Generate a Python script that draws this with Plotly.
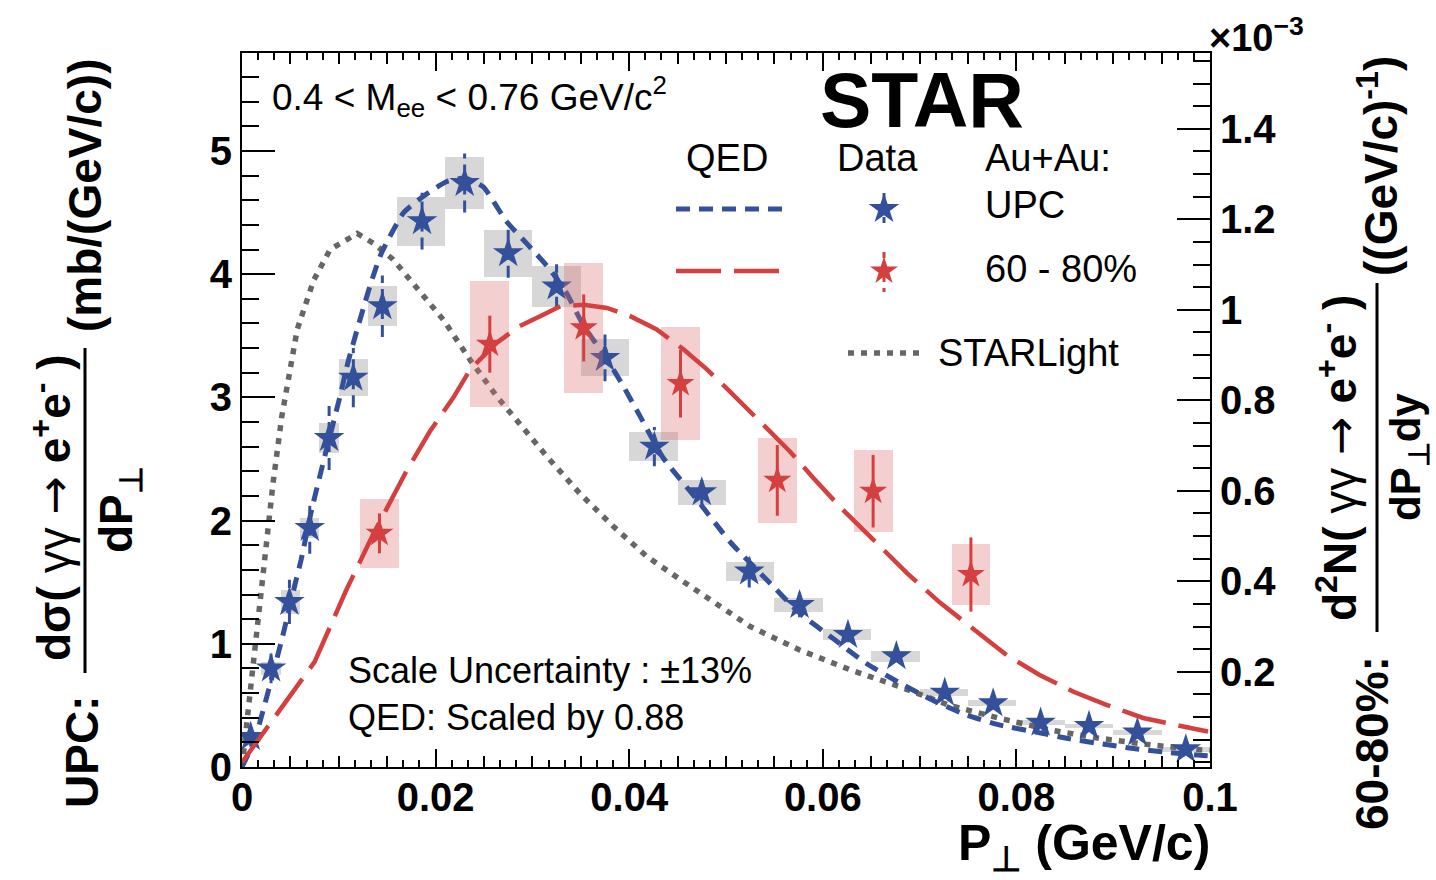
import plotly.graph_objects as go

# ---------------- data ----------------
# UPC data (left axis, mb/(GeV/c))
upc_x = [0.0009, 0.0030, 0.0049, 0.0070, 0.0090, 0.0115, 0.0145, 0.0186, 0.0230, 0.0275, 0.0325, 0.0375,
         0.0426, 0.0475, 0.0524, 0.0576, 0.0626, 0.0676, 0.0726, 0.0776, 0.0825, 0.0875, 0.0925, 0.0975]
upc_y = [0.244, 0.80, 1.34, 1.94, 2.67, 3.16, 3.74, 4.43, 4.74, 4.17, 3.90, 3.32,
         2.60, 2.23, 1.586, 1.315, 1.072, 0.90, 0.603, 0.517, 0.36, 0.333, 0.28, 0.144]
upc_stat = [0.08, 0.12, 0.18, 0.21, 0.26, 0.24, 0.25, 0.23, 0.24, 0.20, 0.18, 0.19,
            0.16, 0.10, 0.13, 0.10, 0.06, 0.05, 0.05, 0.05, 0.04, 0.04, 0.03, 0.03]
upc_sys = [0.04, 0.05, 0.095, 0.085, 0.12, 0.15, 0.16, 0.20, 0.21, 0.19, 0.17, 0.15,
           0.12, 0.10, 0.075, 0.06, 0.045, 0.045, 0.03, 0.025, 0.02, 0.02, 0.018, 0.02]
upc_bin_lo = [0.000, 0.002, 0.004, 0.006, 0.008, 0.010, 0.013, 0.016, 0.021, 0.025, 0.030, 0.035,
              0.040, 0.045, 0.050, 0.055, 0.060, 0.065, 0.070, 0.075, 0.080, 0.085, 0.090, 0.095]
upc_bin_hi = [0.002, 0.004, 0.006, 0.008, 0.010, 0.013, 0.016, 0.021, 0.025, 0.030, 0.035, 0.040,
              0.045, 0.050, 0.055, 0.060, 0.065, 0.070, 0.075, 0.080, 0.085, 0.090, 0.095, 0.100]

# 60-80% data (right axis, units of 1e-3 (GeV/c)^-1)
cen_x = [0.0142, 0.0256, 0.0353, 0.0453, 0.0553, 0.0652, 0.0753]
cen_y = [0.506, 0.924, 0.960, 0.837, 0.623, 0.599, 0.415]
cen_stat = [0.044, 0.063, 0.074, 0.075, 0.078, 0.080, 0.082]
cen_sys = [0.076, 0.139, 0.144, 0.124, 0.094, 0.091, 0.067]
cen_box_w = [0.004, 0.004, 0.004, 0.004, 0.004, 0.004, 0.004]

# QED for UPC (left axis)
qed_upc_x = [0, 0.0013, 0.0041, 0.0055, 0.0061, 0.0072, 0.0088, 0.0101, 0.0110, 0.0132, 0.0144, 0.0167,
             0.0187, 0.0211, 0.0230, 0.0249, 0.0273, 0.0294, 0.0318, 0.0335, 0.0353, 0.0377, 0.0394,
             0.0411, 0.0435, 0.0470, 0.0505, 0.0542, 0.0576, 0.0611, 0.0645, 0.0680, 0.0714, 0.0749,
             0.0783, 0.0818, 0.0852, 0.0886, 0.0921, 0.0955, 0.0990, 0.1]
qed_upc_y = [0, 0.22, 1.03, 1.49, 1.68, 2.09, 2.60, 3.0, 3.30, 3.90, 4.17, 4.50,
             4.63, 4.75, 4.78, 4.71, 4.43, 4.25, 4.04, 3.85, 3.58, 3.31, 3.09,
             2.85, 2.51, 2.17, 1.82, 1.52, 1.25, 1.04, 0.84, 0.68, 0.54, 0.42,
             0.34, 0.287, 0.233, 0.19, 0.15, 0.12, 0.095, 0.09]

# QED for 60-80% (right axis)
qed_cen_x = [0, 0.0075, 0.0108, 0.0136, 0.0170, 0.0194, 0.0218, 0.0236, 0.0263, 0.0287, 0.0308, 0.0329,
             0.0353, 0.0377, 0.0401, 0.0428, 0.0456, 0.0480, 0.0501, 0.0542, 0.0566, 0.0590, 0.0618,
             0.0656, 0.0687, 0.0721, 0.0756, 0.0790, 0.0824, 0.0859, 0.0893, 0.0931, 0.0986, 0.0998]
qed_cen_y = [0, 0.222, 0.382, 0.506, 0.644, 0.731, 0.805, 0.869, 0.927, 0.964, 0.986, 1.008,
             1.011, 1.004, 0.986, 0.957, 0.913, 0.869, 0.826, 0.738, 0.687, 0.629, 0.564,
             0.484, 0.418, 0.353, 0.295, 0.237, 0.193, 0.156, 0.127, 0.098, 0.073, 0.068]

# STARLight (left axis)
slight_x = [0, 0.00045, 0.00096, 0.00165, 0.00234, 0.0032, 0.0041, 0.0057, 0.0074, 0.0091, 0.0119, 0.0136,
            0.0156, 0.0180, 0.0208, 0.0236, 0.0263, 0.0315, 0.0349, 0.0384, 0.0418, 0.0453, 0.0501,
            0.0525, 0.0576, 0.0628, 0.0680, 0.0731, 0.0783, 0.0835, 0.0886, 0.0938, 0.0990, 0.1]
slight_y = [0, 0.33, 0.73, 1.19, 1.68, 2.30, 2.84, 3.55, 3.95, 4.20, 4.33, 4.25,
            4.12, 3.90, 3.63, 3.30, 3.01, 2.52, 2.22, 1.95, 1.71, 1.52, 1.27,
            1.14, 0.95, 0.79, 0.65, 0.50, 0.395, 0.30, 0.233, 0.18, 0.14, 0.135]

x_ticks = [0, 0.02, 0.04, 0.06, 0.08, 0.1]
x_tick_text = ["0", "0.02", "0.04", "0.06", "0.08", "0.1"]
y_left_ticks = [0, 1, 2, 3, 4, 5]
y_right_ticks = [0.2, 0.4, 0.6, 0.8, 1.0, 1.2, 1.4]
y_right_text = ["0.2", "0.4", "0.6", "0.8", "1", "1.2", "1.4"]

# ---------------- styles ----------------
BLUE = "#34509a"
RED = "#d43f3f"
GRAY = "#666666"
FONT = "Liberation Sans, Arial, sans-serif"

W, H = 1436, 880
L, R, T, B = 242, 1210, 53, 767


def PX(x):
    return (x - L) / (R - L)


def PY(y):
    return (B - y) / (B - T)


fig = go.Figure()

# systematic boxes
fig.add_trace(go.Bar(
    x=[(a + b) / 2 for a, b in zip(upc_bin_lo, upc_bin_hi)],
    y=[2 * s for s in upc_sys],
    base=[v - s for v, s in zip(upc_y, upc_sys)],
    width=[b - a for a, b in zip(upc_bin_lo, upc_bin_hi)],
    marker=dict(color="rgba(175,175,175,0.5)", line=dict(width=0)),
    xaxis="x", yaxis="y", showlegend=False, hoverinfo="skip"))
fig.add_trace(go.Bar(
    x=cen_x,
    y=[2 * s for s in cen_sys],
    base=[v - s for v, s in zip(cen_y, cen_sys)],
    width=cen_box_w,
    marker=dict(color="rgba(220,110,110,0.33)", line=dict(width=0)),
    xaxis="x", yaxis="y2", showlegend=False, hoverinfo="skip"))

# curves
fig.add_trace(go.Scatter(x=slight_x, y=slight_y, mode="lines", yaxis="y",
                         line=dict(color=GRAY, width=5.5, dash="6px,7px"),
                         showlegend=False))
fig.add_trace(go.Scatter(x=qed_upc_x, y=qed_upc_y, mode="lines", yaxis="y",
                         line=dict(color=BLUE, width=5, dash="14px,9px", shape="spline", smoothing=0.5),
                         showlegend=False))
fig.add_trace(go.Scatter(x=qed_cen_x, y=qed_cen_y, mode="lines", yaxis="y2",
                         line=dict(color=RED, width=4.5, dash="45px,13px"),
                         showlegend=False))

# blue stat error bars (dashed)
ex, ey = [], []
for xv, yv, sv in zip(upc_x, upc_y, upc_stat):
    ex += [xv, xv, None]
    ey += [yv - sv, yv + sv, None]
fig.add_trace(go.Scatter(x=ex, y=ey, mode="lines", yaxis="y",
                         line=dict(color=BLUE, width=3, dash="12px,6px"), showlegend=False))

# red stat error bars (solid)
rx, ry = [], []
for xv, yv, sv in zip(cen_x, cen_y, cen_stat):
    rx += [xv, xv, None]
    ry += [yv - sv, yv + sv, None]
fig.add_trace(go.Scatter(x=rx, y=ry, mode="lines", yaxis="y2",
                         line=dict(color=RED, width=3), showlegend=False))

# markers
fig.add_trace(go.Scatter(x=upc_x, y=upc_y, mode="markers", yaxis="y",
                         marker=dict(symbol="star", size=23, color=BLUE, line=dict(width=0)),
                         showlegend=False))
fig.add_trace(go.Scatter(x=cen_x, y=cen_y, mode="markers", yaxis="y2",
                         marker=dict(symbol="star", size=21, color=RED, line=dict(width=0)),
                         showlegend=False))

# ---- legend samples on a pixel overlay axis ----
fig.add_trace(go.Scatter(x=[676, 790], y=[209, 209], mode="lines", xaxis="x3", yaxis="y3",
                         line=dict(color=BLUE, width=5, dash="14px,9px"), showlegend=False))
fig.add_trace(go.Scatter(x=[676, 790], y=[271, 271], mode="lines", xaxis="x3", yaxis="y3",
                         line=dict(color=RED, width=4.5, dash="45px,13px"), showlegend=False))
fig.add_trace(go.Scatter(x=[848, 920], y=[353, 353], mode="lines", xaxis="x3", yaxis="y3",
                         line=dict(color=GRAY, width=5.5, dash="6px,7px"), showlegend=False))
fig.add_trace(go.Scatter(x=[884, 884], y=[193, 228], mode="lines", xaxis="x3", yaxis="y3",
                         line=dict(color=BLUE, width=3, dash="6px,6px"), showlegend=False))
fig.add_trace(go.Scatter(x=[884, 884], y=[252, 292], mode="lines", xaxis="x3", yaxis="y3",
                         line=dict(color=RED, width=3, dash="6px,6px"), showlegend=False))
fig.add_trace(go.Scatter(x=[884], y=[209], mode="markers", xaxis="x3", yaxis="y3",
                         marker=dict(symbol="star", size=23, color=BLUE), showlegend=False))
fig.add_trace(go.Scatter(x=[884], y=[271], mode="markers", xaxis="x3", yaxis="y3",
                         marker=dict(symbol="star", size=21, color=RED), showlegend=False))

tickfont = dict(family=FONT, size=40, color="black", weight="bold")

fig.update_layout(
    width=W, height=H,
    margin=dict(l=L, r=W - R, t=T, b=H - B),
    paper_bgcolor="white", plot_bgcolor="white",
    barmode="overlay", bargap=0,
    showlegend=False,
    xaxis=dict(range=[0, 0.1], tickvals=x_ticks, ticktext=x_tick_text,
               ticks="inside", ticklen=18, tickwidth=2, tickcolor="black",
               showline=True, linewidth=2, linecolor="black", mirror="ticks",
               showgrid=False, zeroline=False, tickfont=tickfont, ticklabelstandoff=-6,
               minor=dict(ticks="inside", ticklen=7, tickwidth=1.5, dtick=0.005 / 3, tick0=0,
                          tickcolor="black", showgrid=False)),
    xaxis2=dict(range=[0, 0.1], overlaying="x", anchor="y", dtick=0.005, tick0=0,
                ticks="inside", ticklen=11, tickwidth=1.5, tickcolor="black", mirror="ticks",
                showticklabels=False, showline=False, showgrid=False, zeroline=False),
    yaxis=dict(range=[0, 5.795], tickvals=y_left_ticks,
               ticks="inside", ticklen=33, tickwidth=2, tickcolor="black",
               showline=True, linewidth=2, linecolor="black",
               showgrid=False, zeroline=False, tickfont=tickfont,
               minor=dict(ticks="inside", ticklen=17, tickwidth=1.5, dtick=0.2, tick0=0,
                          tickcolor="black", showgrid=False)),
    yaxis2=dict(range=[-0.0103, 1.5675], overlaying="y", side="right", anchor="x",
                tickvals=y_right_ticks, ticktext=y_right_text,
                ticks="inside", ticklen=33, tickwidth=2, tickcolor="black",
                showline=True, linewidth=2, linecolor="black",
                showgrid=False, zeroline=False, tickfont=tickfont,
                minor=dict(ticks="inside", ticklen=17, tickwidth=1.5, dtick=0.05, tick0=0,
                           tickcolor="black", showgrid=False)),
    xaxis3=dict(range=[L, R], overlaying="x", visible=False, anchor="y3"),
    yaxis3=dict(range=[B, T], overlaying="y", visible=False, anchor="x3"),
)

# an invisible trace on xaxis2 so that the medium ticks are drawn
fig.add_trace(go.Scatter(x=[0.05], y=[1], xaxis="x2", yaxis="y", mode="markers",
                         marker=dict(opacity=0), showlegend=False, hoverinfo="skip"))

ann = []


def add_text(text, x, y, size, xanchor="center", yanchor="middle", weight="normal", angle=0):
    ann.append(dict(text=text, x=PX(x), y=PY(y), xref="paper", yref="paper",
                    xanchor=xanchor, yanchor=yanchor, showarrow=False, textangle=angle,
                    font=dict(family=FONT, size=size, color="black", weight=weight)))


ARROW = "<span style='font-family:DejaVu Sans;font-weight:normal'>→</span>"
GG = "<span style='font-weight:normal'>γγ</span>"

# in-plot texts
add_text("0.4 < M<sub>ee</sub> < 0.76 GeV/c<sup>2</sup>", 270, 96, 37, xanchor="left")
add_text("STAR", 922, 100, 77, weight="bold")
add_text("QED", 727, 158, 38)
add_text("Data", 877, 158, 38)
add_text("Au+Au:", 983, 158, 38, xanchor="left")
add_text("UPC", 983, 205, 38, xanchor="left")
add_text("60 - 80%", 983, 269, 38, xanchor="left")
add_text("STARLight", 936, 353, 38, xanchor="left")
add_text("Scale Uncertainty : ±13%", 346, 670, 36, xanchor="left")
add_text("QED: Scaled by 0.88", 346, 717, 36, xanchor="left")

# x title
add_text("P<sub>⊥</sub> (GeV/c)", 1212, 846, 50, xanchor="right", weight="bold")
# exponent of right axis
add_text("×10<sup>−3</sup>", 1207, 35, 38, xanchor="left", weight="bold")

# left title pieces
add_text("(mb/(GeV/c))", 85, 196, 46, weight="bold", angle=-90)
add_text("dσ( " + GG + " " + ARROW + " e<sup>+</sup>e<sup>-</sup> )", 52, 508, 46, weight="bold", angle=-90)
add_text("dP<sub>⊥</sub>", 120, 510, 46, weight="bold", angle=-90)
add_text("UPC:", 82, 752, 46, weight="bold", angle=-90)

# right title pieces
add_text("((GeV/c)<sup>-1</sup>)", 1378, 166, 46, weight="bold", angle=-90)
add_text("d<sup>2</sup>N( " + GG + " " + ARROW + " e<sup>+</sup>e<sup>-</sup> )", 1337, 458, 46,
         weight="bold", angle=-90)
add_text("dP<sub>⊥</sub>dy", 1408, 457, 42, weight="bold", angle=-90)
add_text("60-80%:", 1372, 743, 46, weight="bold", angle=-90)

shapes = [
    dict(type="line", xref="paper", yref="paper", x0=PX(85), x1=PX(85), y0=PY(348), y1=PY(673),
         line=dict(color="black", width=3)),
    dict(type="line", xref="paper", yref="paper", x0=PX(1377), x1=PX(1377), y0=PY(283), y1=PY(632),
         line=dict(color="black", width=3)),
]

fig.update_layout(annotations=ann, shapes=shapes)

fig.write_html("out.html", config={"displayModeBar": False},
               post_script="document.body.style.margin='0';document.body.style.overflow='hidden';")
